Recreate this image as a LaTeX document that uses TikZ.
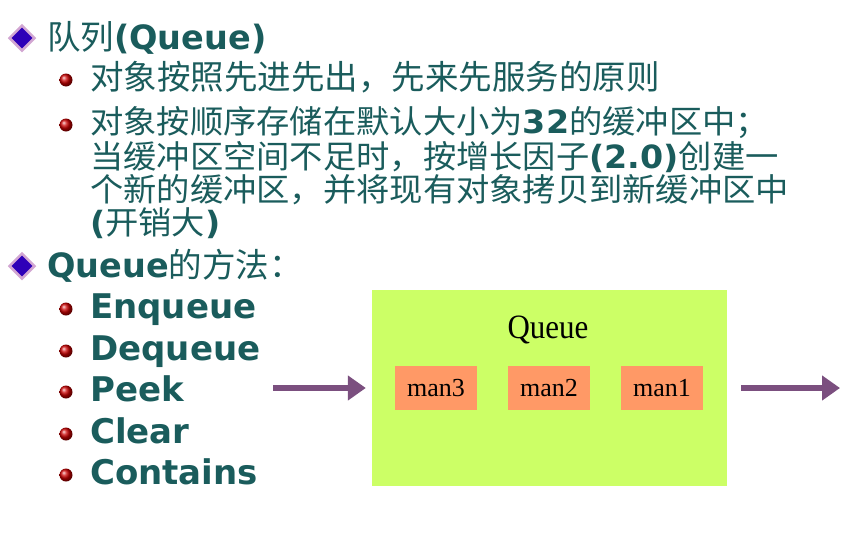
\documentclass[tikz,border=0pt]{standalone}
\usepackage{fontspec}
\usetikzlibrary{positioning,shapes.geometric,arrows.meta}
\newfontfamily\cjk{Noto Sans CJK SC}
\newfontfamily\lat{DejaVu Sans}
\newfontfamily\qfont{Liberation Serif}
\definecolor{txtteal}{HTML}{1A5C5C}
\definecolor{boxgreen}{HTML}{CCFF66}
\definecolor{boxorange}{HTML}{FF9966}
\definecolor{arrpurple}{HTML}{7B4F7F}
\tikzset{diabullet/.style={diamond,draw=violet!35,line width=2.5pt,fill=blue!60!violet!90!black,inner sep=6.5pt}}
\tikzset{ballbullet/.style={circle,ball color=red!80!black,inner sep=0pt,minimum size=13pt}}
\tikzset{line/.style={anchor=west,inner sep=0pt,text height=22pt,text depth=4pt,text=txtteal,font=\cjk\fontsize{33.5}{35}\selectfont}}
\tikzset{para/.style={line,font=\cjk\fontsize{32}{33}\selectfont,xscale=1.04}}
\tikzset{man/.style={fill=boxorange,minimum width=82pt,minimum height=44pt,font=\qfont\fontsize{26}{28}\selectfont}}
\tikzset{bigarrow/.style={draw=arrpurple,line width=6pt,-{Triangle[length=18pt,width=24pt]}}}
\begin{document}
\begin{tikzpicture}[x=1pt,y=-1pt]
		\useasboundingbox (0,0) rectangle (866,541);
		
		% headings
		\node[diabullet] (d1) at (22,38) {};
		\node[line] (h1) at (47,40) {队列{\lat\bfseries (Queue)}};
		\node[diabullet] (d2) at (22,266) {};
		\node[line] (h2) at (47,268) {{\lat\bfseries Queue}的方法：};
		
		% first list
		\node[ballbullet] (b1) at (66,80) {};
		\node[line] (t1) at (90,80) {对象按照先进先出，先来先服务的原则};
		\node[ballbullet] (b2) at (66,125) {};
		\node[para] (t2) at (90,124) {对象按顺序存储在默认大小为{\lat\bfseries 32}的缓冲区中；};
		\node[para] (t3) at (90,159) {当缓冲区空间不足时，按增长因子{\lat\bfseries (2.0)}创建一};
		\node[para] (t4) at (90,192) {个新的缓冲区，并将现有对象拷贝到新缓冲区中};
		\node[para] (t5) at (90,225) {{\lat\bfseries (}开销大{\lat\bfseries )}};
		
		% methods
		\foreach \m/\y [count=\i] in {Enqueue/309,Dequeue/351,Peek/392,Clear/434,Contains/475}{
			\node[ballbullet] (mb\i) at (66,\y) {};
			\node[line,font=\lat\bfseries\fontsize{34}{35}\selectfont] (m\i) at (90,\y) {\m};
		}
		
		% queue box
		\node[fill=boxgreen,minimum width=355pt,minimum height=196pt] (queue) at (549.5,388) {};
		\node[font=\qfont\fontsize{31}{33}\selectfont,yscale=1.1] (qlabel) at (548,330) {Queue};
		\node[man] (man3) at (436,388) {man3};
		\node[man] (man2) at (549,388) {man2};
		\node[man] (man1) at (662,388) {man1};
		
		% arrows
		\coordinate (inA) at (273,388);
		\coordinate (outB) at (840,388);
		\draw[bigarrow] (inA) -- ([xshift=-6pt]queue.west);
		\draw[bigarrow] ([xshift=14pt]queue.east) -- (outB);
\end{tikzpicture}
\end{document}
